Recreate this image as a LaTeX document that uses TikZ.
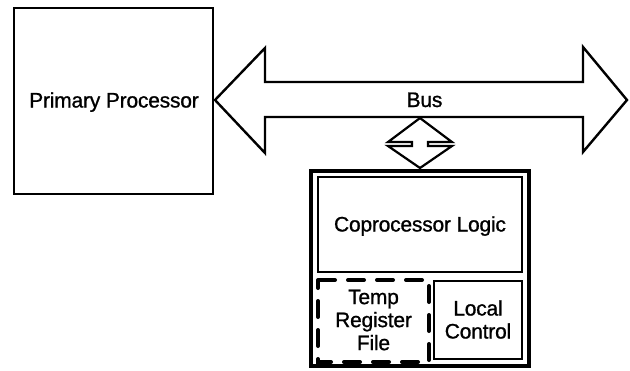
\documentclass[tikz,border=0pt]{standalone}
\usepackage{fontspec}
\setmainfont{Liberation Sans}
\newfontfamily\diagfont[FakeBold=1, LetterSpace=-1]{Liberation Sans}
\usepackage{tikz}

\tikzset{
  block/.style={draw, line width=2.4pt},
  label/.style={font=\diagfont\fontsize{21}{23}\selectfont, align=center, inner sep=0pt},
  regfile/.style={draw, line width=4pt, line cap=round, dash pattern=on 16pt off 13pt, dash phase=8pt}
}

\begin{document}
\begin{tikzpicture}[x=1pt, y=-1pt, line join=miter]
        \useasboundingbox (0,0) rectangle (630,370);

        % primary processor
        \draw [block] (14,8) rectangle (213,194);
        \node[label, anchor=base] (cpu) at (114,107.5) {Primary Processor};

        % bus
        \draw [line width=2.4pt] (215,100) -- (265,48) -- (265,82) -- (583,82) -- (583,47)
              -- (627,100) -- (583,152) -- (583,117) -- (265,117) -- (265,153) -- cycle;
        \node[label, anchor=base] (bus) at (424.5,107) {Bus};

        % link between bus and coprocessor
        \draw [line width=2.2pt] (420,118) -- (452,142) -- (428,142) -- (428,146) -- (452,146)
              -- (420,168) -- (388,146) -- (412,146) -- (412,142) -- (388,142) -- cycle;

        % coprocessor
        \draw [line width=3.8pt] (311,171) rectangle (529,366);
        \draw [block] (318,177) rectangle (522,272);
        \node[label, anchor=base] (logic) at (420,231.5) {Coprocessor Logic};

        \draw [regfile] (318,280) rectangle (429,362);
        \node[label] (regs) at (373.5,320) {Temp\\Register\\File};

        \draw [block] (434,281) rectangle (522,359);
        \node[label] (ctrl) at (478,319.5) {Local\\Control};
\end{tikzpicture}
\end{document}
